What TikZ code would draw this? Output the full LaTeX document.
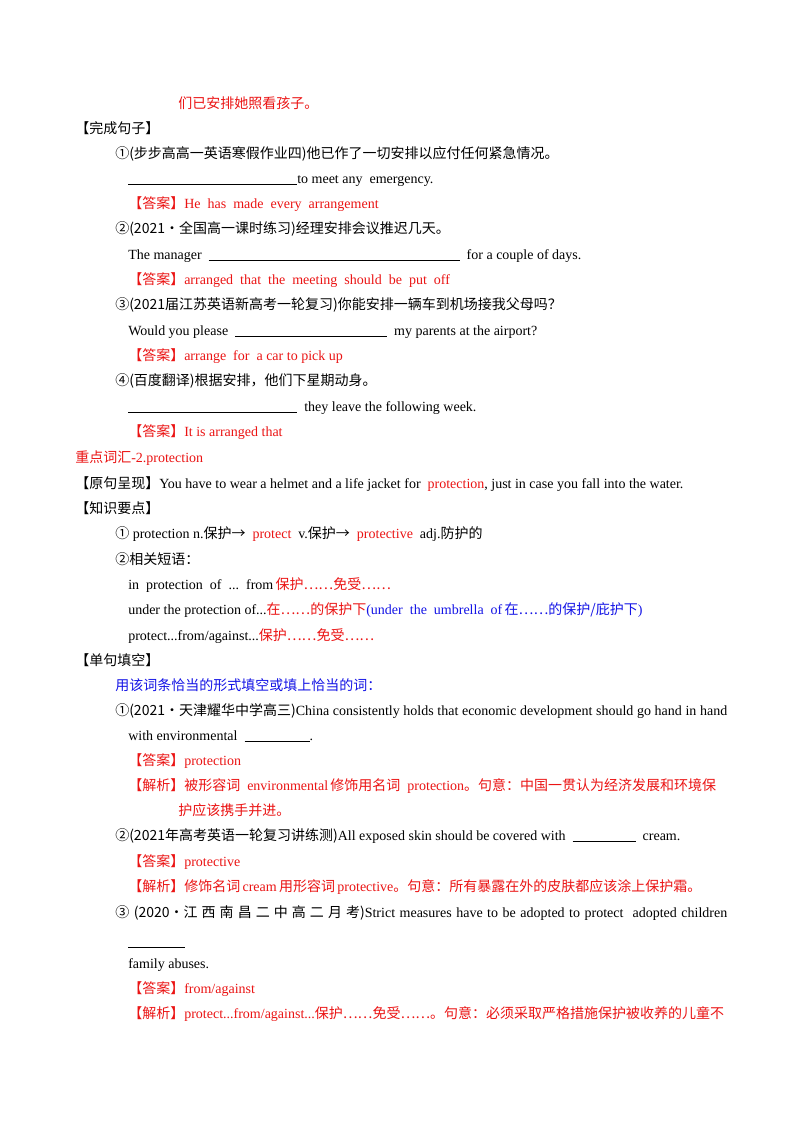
\documentclass[tikz,border=0pt]{standalone}
\usepackage{fontspec}
\setmainfont{Liberation Serif}
\newfontfamily\cjk{Noto Sans CJK SC}
\newcommand\zh[1]{{\cjk #1}}
\definecolor{myred}{RGB}{235,20,20}
\definecolor{myblue}{RGB}{20,20,230}
\newcommand\rd[1]{\textcolor{myred}{#1}}
\newcommand\bl[1]{\textcolor{myblue}{#1}}
\newcommand\blank[1]{\rule[-1.5pt]{#1}{0.4pt}}
\begin{document}
\begin{tikzpicture}[x=0.75pt,y=-0.75pt,
  t/.style={anchor=base west,inner sep=0pt,font=\fontsize{10.5}{12}\selectfont}]
\useasboundingbox[fill=white] (0,0) rectangle (800,1132);
\node[t] (l1) at (178,108) {\rd{\zh{们已安排她照看孩子。}}};
\node[t] (l2) at (75,133) {\zh{【完成句子】}};
\node[t] (l3) at (115,158) {\zh{①(步步高高一英语寒假作业四)他已作了一切安排以应付任何紧急情况。}};
\node[t] (l4) at (128,183) {\blank{126.75pt}to meet any\ \ emergency.};
\node[t] (l5) at (128,208) {\rd{\zh{【答案】}He\ \ has\ \ made\ \ every\ \ arrangement}};
\node[t] (l6) at (115,233) {\zh{②(2021·全国高一课时练习)经理安排会议推迟几天。}};
\node[t] (l7) at (128,259) {The manager\ \ \blank{188.25pt}\ \ for a couple of days.};
\node[t] (l8) at (128,284) {\rd{\zh{【答案】}arranged\ \ that\ \ the\ \ meeting\ \ should\ \ be\ \ put\ \ off}};
\node[t] (l9) at (115,309) {\zh{③(2021届江苏英语新高考一轮复习)你能安排一辆车到机场接我父母吗？}};
\node[t] (l10) at (128,335) {Would you please\ \ \blank{114pt}\ \ my parents at the airport?};
\node[t] (l11) at (128,360) {\rd{\zh{【答案】}arrange\ \ for\ \ a car to pick up}};
\node[t] (l12) at (115,385) {\zh{④(百度翻译)根据安排，他们下星期动身。}};
\node[t] (l13) at (128,411) {\blank{126.75pt}\ \ they leave the following week.};
\node[t] (l14) at (128,436) {\rd{\zh{【答案】}It is arranged that}};
\node[t] (l15) at (75,462) {\rd{\zh{重点词汇}-2.protection}};
\node[t] (l16) at (75,488) {\zh{【原句呈现】}You have to wear a helmet and a life jacket for\ \ \rd{protection}, just in case you fall into the water.};
\node[t] (l17) at (75,513) {\zh{【知识要点】}};
\node[t] (l18) at (115,538) {\zh{①} protection n.\zh{保护→}\ \ \rd{protect}\ \ v.\zh{保护→}\ \ \rd{protective}\ \ adj.\zh{防护的}};
\node[t] (l19) at (115,564) {\zh{②相关短语：}};
\node[t] (l20) at (128,589) {in\ \ protection\ \ of\ \ ...\ \ from\,\rd{\zh{保护……免受……}}};
\node[t] (l21) at (128,614) {under the protection of...\rd{\zh{在……的保护下}}\bl{(under\ \ the\ \ umbrella\ \ of\,\zh{在……的保护/庇护下})}};
\node[t] (l22) at (128,640) {protect...from/against...\rd{\zh{保护……免受……}}};
\node[t] (l23) at (75,665) {\zh{【单句填空】}};
\node[t] (l24) at (115,690) {\bl{\zh{用该词条恰当的形式填空或填上恰当的词：}}};
\node[t] (l25) at (115,715) {\hbox to 459pt{\zh{①(2021·天津耀华中学高三)}China consistently holds that economic development should go hand in hand}};
\node[t] (l26) at (128,740) {with environmental\ \ \blank{48.75pt}.};
\node[t] (l27) at (128,765) {\rd{\zh{【答案】}protection}};
\node[t] (l28) at (128,790) {\rd{\zh{【解析】被形容词}\ \ environmental\,\zh{修饰用名词}\ \ protection\zh{。句意：中国一贯认为经济发展和环境保}}};
\node[t] (l29) at (178,815) {\rd{\zh{护应该携手并进。}}};
\node[t] (l30) at (115,840) {\zh{②(2021年高考英语一轮复习讲练测)}All exposed skin should be covered with\ \ \blank{47.25pt}\ \ cream.};
\node[t] (l31) at (128,866) {\rd{\zh{【答案】}protective}};
\node[t] (l32) at (128,891) {\rd{\zh{【解析】修饰名词}\,cream\,\zh{用形容词}\,protective\zh{。句意：所有暴露在外的皮肤都应该涂上保护霜。}}};
\node[t] (l33) at (115,917) {\hbox to 459pt{\zh{③} \zh{(2020·江 西 南 昌 二 中 高 二 月 考)}Strict measures have to be adopted to protect\ \ adopted children}};
\node[t] (l34) at (128,946) {\blank{42.75pt}};
\node[t] (l35) at (128,968) {family abuses.};
\node[t] (l36) at (128,993) {\rd{\zh{【答案】}from/against}};
\node[t] (l37) at (128,1018) {\rd{\zh{【解析】}protect...from/against...\zh{保护……免受……。句意：必须采取严格措施保护被收养的儿童不}}};
\end{tikzpicture}
\end{document}
